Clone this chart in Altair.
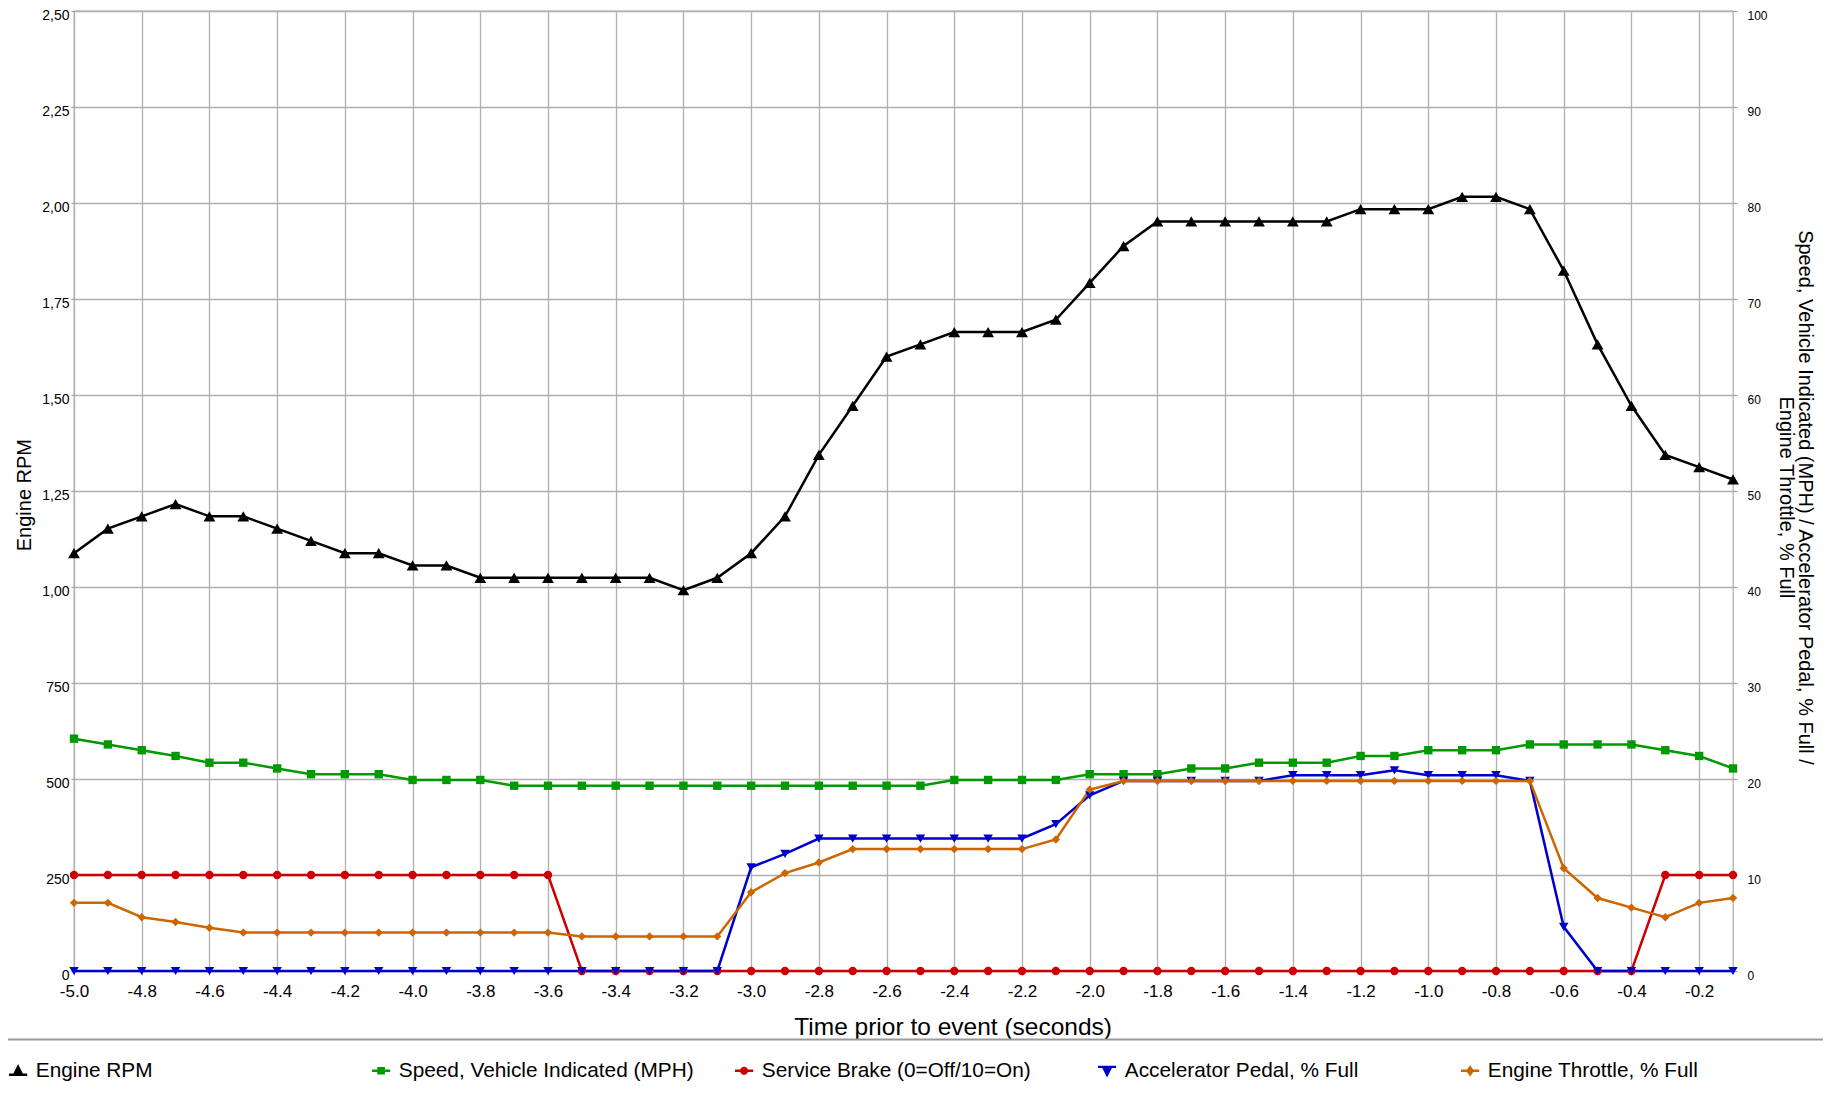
import json
import altair as alt
import pandas as pd

# ---------------- data ----------------
t = [-5.0, -4.9, -4.8, -4.7, -4.6, -4.5, -4.4, -4.3, -4.2, -4.1,
     -4.0, -3.9, -3.8, -3.7, -3.6, -3.5, -3.4, -3.3, -3.2, -3.1,
     -3.0, -2.9, -2.8, -2.7, -2.6, -2.5, -2.4, -2.3, -2.2, -2.1,
     -2.0, -1.9, -1.8, -1.7, -1.6, -1.5, -1.4, -1.3, -1.2, -1.1,
     -1.0, -0.9, -0.8, -0.7, -0.6, -0.5, -0.4, -0.3, -0.2, -0.1]

engine_rpm = [1088, 1152, 1184, 1216, 1184, 1184, 1152, 1120, 1088, 1088,
              1056, 1056, 1024, 1024, 1024, 1024, 1024, 1024, 992, 1024,
              1088, 1184, 1344, 1472, 1600, 1632, 1664, 1664, 1664, 1696,
              1792, 1888, 1952, 1952, 1952, 1952, 1952, 1952, 1984, 1984,
              1984, 2016, 2016, 1984, 1824, 1632, 1472, 1344, 1312, 1280]

speed_mph = [24.2, 23.6, 23.0, 22.4, 21.7, 21.7, 21.1, 20.5, 20.5, 20.5,
             19.9, 19.9, 19.9, 19.3, 19.3, 19.3, 19.3, 19.3, 19.3, 19.3,
             19.3, 19.3, 19.3, 19.3, 19.3, 19.3, 19.9, 19.9, 19.9, 19.9,
             20.5, 20.5, 20.5, 21.1, 21.1, 21.7, 21.7, 21.7, 22.4, 22.4,
             23.0, 23.0, 23.0, 23.6, 23.6, 23.6, 23.6, 23.0, 22.4, 21.1]

service_brake = [10, 10, 10, 10, 10, 10, 10, 10, 10, 10,
                 10, 10, 10, 10, 10, 0, 0, 0, 0, 0,
                 0, 0, 0, 0, 0, 0, 0, 0, 0, 0,
                 0, 0, 0, 0, 0, 0, 0, 0, 0, 0,
                 0, 0, 0, 0, 0, 0, 0, 10, 10, 10]

accel_pedal = [0, 0, 0, 0, 0, 0, 0, 0, 0, 0,
               0, 0, 0, 0, 0, 0, 0, 0, 0, 0,
               10.8, 12.2, 13.8, 13.8, 13.8, 13.8, 13.8, 13.8, 13.8, 15.3,
               18.3, 19.8, 19.8, 19.8, 19.8, 19.8, 20.4, 20.4, 20.4, 20.9,
               20.4, 20.4, 20.4, 19.8, 4.6, 0, 0, 0, 0, 0]

throttle = [7.1, 7.1, 5.6, 5.1, 4.5, 4.0, 4.0, 4.0, 4.0, 4.0,
            4.0, 4.0, 4.0, 4.0, 4.0, 3.6, 3.6, 3.6, 3.6, 3.6,
            8.2, 10.2, 11.3, 12.7, 12.7, 12.7, 12.7, 12.7, 12.7, 13.7,
            18.9, 19.8, 19.8, 19.8, 19.8, 19.8, 19.8, 19.8, 19.8, 19.8,
            19.8, 19.8, 19.8, 19.8, 10.7, 7.6, 6.6, 5.6, 7.1, 7.6]

series_names = ["Engine RPM",
                "Speed, Vehicle Indicated (MPH)",
                "Service Brake (0=Off/10=On)",
                "Accelerator Pedal, % Full",
                "Engine Throttle, % Full"]

x_ticks = [-5.0, -4.8, -4.6, -4.4, -4.2, -4.0, -3.8, -3.6, -3.4, -3.2,
           -3.0, -2.8, -2.6, -2.4, -2.2, -2.0, -1.8, -1.6, -1.4, -1.2,
           -1.0, -0.8, -0.6, -0.4, -0.2]
left_ticks = [0, 250, 500, 750, 1000, 1250, 1500, 1750, 2000, 2250, 2500]
left_tick_labels = ["0", "250", "500", "750", "1,00", "1,25", "1,50",
                    "1,75", "2,00", "2,25", "2,50"]
right_ticks = [0, 10, 20, 30, 40, 50, 60, 70, 80, 90, 100]

# ---------------- styles (kept apart from the data) ----------------
series_colors = ["#000000", "#009900", "#cc0000", "#0000cc", "#cc6600"]
series_shapes = ["triangle-up", "square", "circle", "triangle-down", "diamond"]
series_msizes = [140, 70, 70, 90, 70]
# legend glyphs: the marker drawn on a short line segment
BAR = "M-1,-0.13H1V0.13H-1Z"
legend_glyphs = [
    "M-1,0.3H1V0.56H-1Z M0,-0.75L0.6,0.45H-0.6Z",
    BAR + " M-0.42,-0.42H0.42V0.42H-0.42Z",
    BAR + " M-0.45,0A0.45,0.45 0 1,1 0.45,0A0.45,0.45 0 1,1 -0.45,0Z",
    "M-1,-0.56H1V-0.3H-1Z M-0.6,-0.45L0.6,-0.45L0,0.75Z",
    BAR + " M0,-0.62L0.45,0L0,0.62L-0.45,0Z",
]
style = {n: dict(color=c, shape=s, msize=z)
         for n, c, s, z in zip(series_names, series_colors, series_shapes, series_msizes)}

# ---------------- tables ----------------
def make_table(name, vals):
    df = pd.DataFrame({"t": t, "value": vals, "series": name})
    df["lcolor"] = style[name]["color"]
    df["mshape"] = style[name]["shape"]
    df["msize"] = style[name]["msize"]
    return df

rpm_df = make_table(series_names[0], engine_rpm)
right_df = pd.concat(
    [make_table(n, v) for n, v in zip(series_names[1:],
                                       [speed_mph, service_brake, accel_pedal, throttle])],
    ignore_index=True)

FONT = "Liberation Sans"
GRID = "#b0b0b0"

x_enc = alt.X(
    "t:Q",
    scale=alt.Scale(domain=[-5.0, -0.1], nice=False, zero=False),
    axis=alt.Axis(
        values=x_ticks,
        labelExpr="replace(format(datum.value, '.1f'), '\u2212', '-')",
        title="Time prior to event (seconds)",
        grid=True, gridColor=GRID, gridWidth=1.3,
        domain=False, tickSize=4, tickColor="#999999",
        labelFontSize=17, labelPadding=8, labelColor="#000000",
        labelFlush=False, labelOverlap=False, labelBound=False,
        titleFontSize=24.5, titleFontWeight="normal", titleColor="#000000",
        titleX=878.6, titleY=63.3, titleAlign="center", titleBaseline="alphabetic",
    ),
)

color_scale = alt.Scale(domain=series_names, range=series_colors)
glyph_scale = alt.Scale(domain=series_names, range=legend_glyphs)

legend = alt.Legend(
    orient="none", legendX=-66.3, legendY=1049, direction="horizontal",
    title=None, columns=5, gridAlign="all", columnPadding=40, labelLimit=600,
    labelFontSize=20.8, labelOffset=7.3, symbolSize=330, padding=0,
    symbolStrokeWidth=0, symbolOpacity=1,
)

stroke_line = alt.Stroke("lcolor:N", scale=None)
color_lit = alt.Color("lcolor:N", scale=None)
shape_lit = alt.Shape("mshape:N", scale=None)
size_lit = alt.Size("msize:Q", scale=None)
color_leg = alt.Color("series:N", scale=color_scale, legend=legend)
shape_leg = alt.Shape("series:N", scale=glyph_scale, legend=legend)

y_left = alt.Y(
    "value:Q",
    scale=alt.Scale(domain=[0, 2500], nice=False, zero=True),
    axis=alt.Axis(
        orient="left", values=left_ticks,
        labelExpr="%s[round(datum.value / 250)]" % json.dumps(left_tick_labels),
        grid=True, gridColor=GRID, gridWidth=1.3,
        domain=False, tickSize=3, tickColor="#999999",
        labelFontSize=14, labelPadding=2, labelOffset=4, labelColor="#000000",
        labelFlush=False, labelOverlap=False, labelBound=False,
        title="Engine RPM", titleFontSize=20, titleFontWeight="normal",
        titleColor="#000000", titleAngle=270, titleX=-44, titleY=483.6,
        titleAlign="center", titleBaseline="alphabetic",
    ),
)

y_right = alt.Y(
    "value:Q",
    scale=alt.Scale(domain=[0, 100], nice=False, zero=True),
    axis=alt.Axis(
        orient="right", values=right_ticks, format="d",
        grid=False, domain=False, tickSize=4, tickColor="#999999",
        labelFontSize=12, labelPadding=10, labelOffset=4, labelColor="#000000",
        labelFlush=False, labelOverlap=False, labelBound=False,
        title=["Speed, Vehicle Indicated (MPH) / Accelerator Pedal, % Full /",
               "Engine Throttle, % Full"],
        titleFontSize=20, titleFontWeight="normal", titleColor="#000000",
        titleAngle=90, titleX=65.5, titleY=486, titleAlign="center",
        titleBaseline="alphabetic", titleLineHeight=19,
    ),
)


def series_layer(df, y_enc):
    line = alt.Chart(df).mark_line(strokeWidth=2.5).encode(
        x=x_enc, y=y_enc, stroke=stroke_line, detail="series:N")
    pts = alt.Chart(df).mark_point(filled=True, opacity=1, strokeWidth=0).encode(
        x=x_enc, y=y_enc, color=color_lit, shape=shape_lit, size=size_lit)
    # invisible marks that only carry the legend
    leg = alt.Chart(df).mark_point(filled=True, opacity=0).encode(
        x=x_enc, y=y_enc, color=color_leg, shape=shape_leg)
    return alt.layer(line, pts, leg)


left_layer = series_layer(rpm_df, y_left)
right_layer = series_layer(right_df, y_right)

sep_df = pd.DataFrame({"k": [0]})
separator = alt.Chart(sep_df).mark_rule(color="#9a9a9a", strokeWidth=2).encode(
    x=alt.value(-66), x2=alt.value(1749), y=alt.value(1028.5))

chart = (
    alt.layer(left_layer, right_layer, separator)
    .resolve_scale(y="independent")
    .properties(
        width=1659, height=960,
        padding={"left": 66, "top": 3, "right": 90, "bottom": 117},
        autosize=alt.AutoSizeParams(type="none"),
        background="#ffffff",
    )
    .configure(font=FONT)
    .configure_view(stroke=GRID, strokeWidth=1.3)
    .configure_legend(labelFont=FONT, labelColor="#000000")
)

chart.save("out.html", embed_options={"renderer": "svg", "actions": False})
